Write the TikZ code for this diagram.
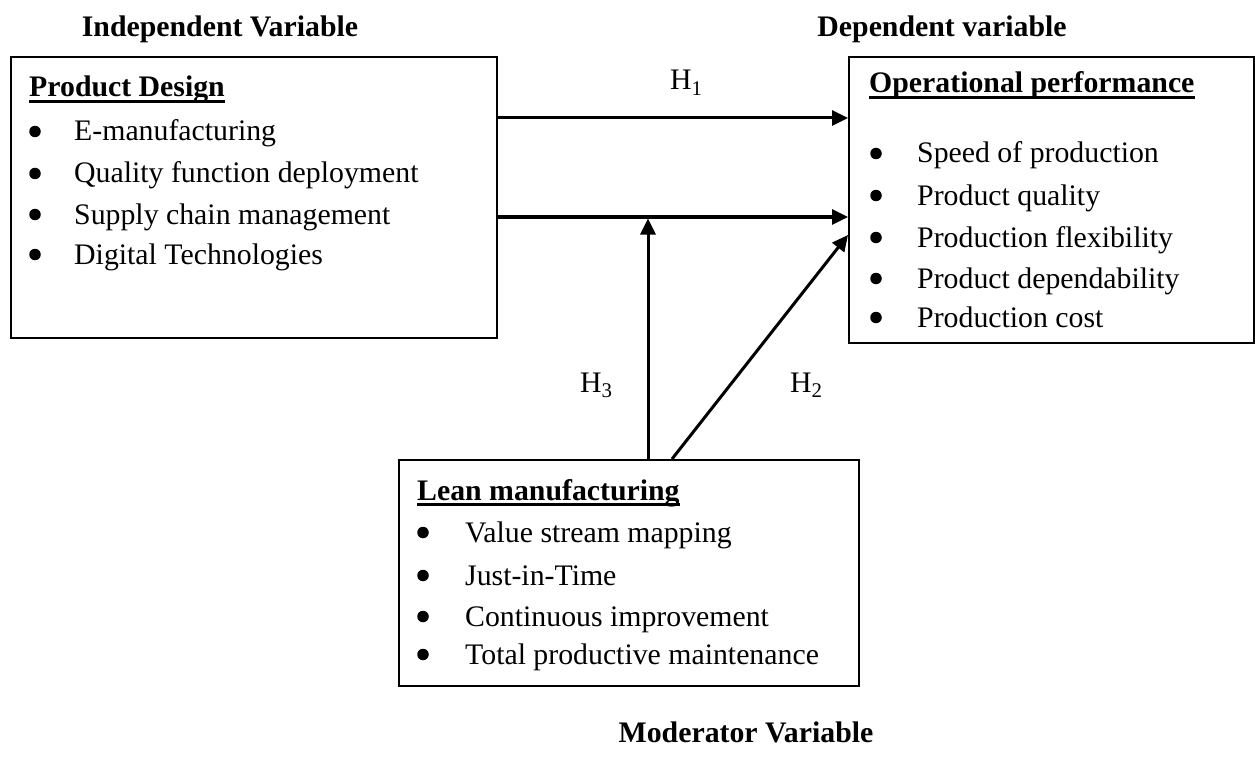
\documentclass[tikz,border=0pt]{standalone}
\usepackage{fontspec}
\setmainfont{Liberation Serif}
\usetikzlibrary{arrows.meta}
\begin{document}
\begin{tikzpicture}[x=1pt,y=-1pt,
  box/.style={draw, line width=2pt, anchor=north west, inner sep=0pt},
  txt/.style={anchor=base west, inner sep=0pt, font=\fontsize{29.8}{36}\selectfont},
  head/.style={anchor=base west, inner sep=0pt, font=\fontsize{29.8}{36}\selectfont\bfseries},
  title/.style={anchor=base, inner sep=0pt, font=\fontsize{29.8}{36}\selectfont\bfseries},
  dot/.style={circle, fill, inner sep=0pt, minimum size=11.5pt},
  uline/.style={line width=2.5pt},
  arr/.style={line width=3pt, -{Triangle[length=16pt,width=15pt]}}]
\useasboundingbox (0,0) rectangle (1255,762);

% titles
\node[title] (tind) at (220,37) {Independent Variable};
\node[title] (tdep) at (942,37) {Dependent variable};
\node[title] (tmod) at (746,742) {Moderator Variable};

% boxes
\node[box, minimum width=486pt, minimum height=281pt] (pd) at (10,56) {};
\node[box, minimum width=405pt, minimum height=286pt] (op) at (848,56) {};
\node[box, minimum width=460pt, minimum height=226pt] (lm) at (398,459) {};

% Product Design
\node[head] (pdh) at (29,97) {Product Design};
\draw[uline] ([yshift=-4.5pt]pdh.base west) -- ([yshift=-4.5pt]pdh.base east);
\node[txt] (pd1) at (74,141) {E-manufacturing};
\node[txt] (pd2) at (74,183) {Quality function deployment};
\node[txt] (pd3) at (74,224) {Supply chain management};
\node[txt] (pd4) at (74,264) {Digital Technologies};
\foreach \i in {1,...,4} \node[dot] (pdb\i) at ([yshift=9.5pt]pd\i.base west -| 35,0) {};

% Operational performance
\node[head] (oph) at (869,93) {Operational performance};
\draw[uline] ([yshift=-4.5pt]oph.base west) -- ([yshift=-4.5pt]oph.base east);
\node[txt] (op1) at (917,163) {Speed of production};
\node[txt] (op2) at (917,205) {Product quality};
\node[txt] (op3) at (917,247) {Production flexibility};
\node[txt] (op4) at (917,288) {Product dependability};
\node[txt] (op5) at (917,327) {Production cost};
\foreach \i in {1,...,5} \node[dot] (opb\i) at ([yshift=9.5pt]op\i.base west -| 876,0) {};

% Lean manufacturing
\node[head] (lmh) at (417,500) {Lean manufacturing};
\draw[uline] ([yshift=-4.5pt]lmh.base west) -- ([yshift=-4.5pt]lmh.base east);
\node[txt] (lm1) at (465,542) {Value stream mapping};
\node[txt] (lm2) at (465,585) {Just-in-Time};
\node[txt] (lm3) at (465,626) {Continuous improvement};
\node[txt] (lm4) at (465,664) {Total productive maintenance};
\foreach \i in {1,...,4} \node[dot] (lmb\i) at ([yshift=9.5pt]lm\i.base west -| 423,0) {};

% hypothesis labels
\node[txt] (h1) at (670,90) {H\textsubscript{1}};
\node[txt] (h3) at (580,392) {H\textsubscript{3}};
\node[txt] (h2) at (790,392) {H\textsubscript{2}};

% connectors
\coordinate (ya) at (0,118);
\coordinate (yb) at (0,217);
\coordinate (yc) at (0,235);
\coordinate (v) at (648,217);
\coordinate (d) at (672,459);
\draw[arr] (pd.east |- ya) -- (op.west |- ya);
\draw[arr] (pd.east |- yb) -- (op.west |- yb);
\draw[arr, shorten >=1.5pt] (lm.north -| v) -- (v);
\draw[arr] (lm.north -| d) -- (op.west |- yc);
\end{tikzpicture}
\end{document}
